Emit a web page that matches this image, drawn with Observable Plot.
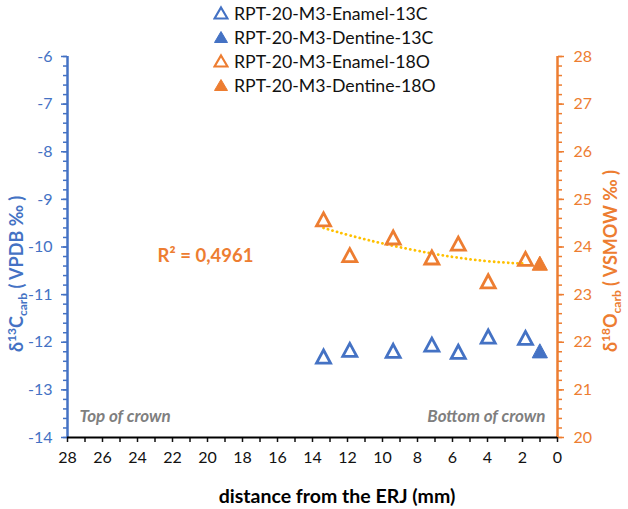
<!DOCTYPE html>
<html>
<head>
<meta charset="utf-8">
<script src="https://cdn.jsdelivr.net/npm/d3@7"></script>
<script src="https://cdn.jsdelivr.net/npm/@observablehq/plot@0.6"></script>
<style>
  body { margin: 0; background: #fff; font-family: Lato, "Open Sans", sans-serif; }
  #wrap { position: relative; width: 628px; height: 509px; }
  #legend { position: absolute; left: 213px; top: 1px; font-size: 17.7px; color: #111; }
  .row { display: flex; align-items: center; height: 24px; white-space: nowrap; }
  .row svg { margin-right: 5px; }
</style>
</head>
<body>
<div id="wrap"><div id="legend"></div></div>
<script>
// Sampling positions along the tooth (mm from the enamel-root junction)
const distEnamel = [13.37, 11.87, 9.39, 7.18, 5.67, 3.96, 1.83];
const c13Enamel = [-12.30, -12.16, -12.18, -12.05, -12.20, -11.88, -11.91];
const o18Enamel = [24.58, 23.83, 24.20, 23.78, 24.07, 23.28, 23.75];
const distDentine = [1.01];
const c13Dentine = [-12.18];
const o18Dentine = [23.66];

// Trend line through the enamel δ18O values
const trendDist = [13.37, 11.83, 9.70, 7.26, 5.16, 3.26, 1.83];
const trendO18 = [24.40, 24.24, 24.05, 23.87, 23.75, 23.68, 23.65];
const rSquared = 0.4961;

const seriesNames = [
  "RPT-20-M3-Enamel-13C",
  "RPT-20-M3-Dentine-13C",
  "RPT-20-M3-Enamel-18O",
  "RPT-20-M3-Dentine-18O"
];
const cornerLabels = ["Top of crown", "Bottom of crown"];

const blue = "#4472C4";
const orange = "#ED7D31";
const gold = "#FFC000";

// δ18O (20–28) shares the frame with δ13C (−14 to −6)
const shift = 34;
const toC = (o) => o - shift;

const xTicks = d3.range(0, 29, 1);
const cMajor = d3.range(-14, -5, 1);
const cMinor = d3.range(0, 41).map(i => -14 + i * 0.2);

const rows = (xs, ys) => xs.map((x, i) => ({x, y: ys[i]}));
const enamelC = rows(distEnamel, c13Enamel);
const dentineC = rows(distDentine, c13Dentine);
const enamelO = rows(distEnamel, o18Enamel.map(toC));
const dentineO = rows(distDentine, o18Dentine.map(toC));
const trend = rows(trendDist, trendO18.map(toC));

// upright triangle centred on its bounding box
const triangle = {
  draw(context, size) {
    const r = Math.sqrt(size / Math.PI);
    const h = r * 0.93;
    context.moveTo(0, -h);
    context.lineTo(r, h);
    context.lineTo(-r, h);
    context.closePath();
  }
};
const hollow = {symbol: triangle, r: 7, fill: "none", strokeWidth: 2.8, strokeLinejoin: "miter"};
const solid = {symbol: triangle, r: 7.6, strokeWidth: 1};

const svg = Plot.plot({
  width: 628,
  height: 509,
  marginLeft: 67,
  marginRight: 71,
  marginTop: 56,
  marginBottom: 72,
  style: {fontFamily: "Lato, 'Open Sans', sans-serif", fontSize: "16px", background: "#fff"},
  x: {domain: [28, 0]},
  y: {domain: [-14, -6]},
  marks: [
    // left axis (δ13C)
    Plot.axisY(cMinor, {anchor: "left", tickSize: 4, strokeWidth: 1.5, stroke: blue, fill: "none", label: null}),
    Plot.axisY(cMajor, {anchor: "left", tickSize: 6, tickPadding: 9, strokeWidth: 1.5, color: blue, tickFormat: d => String(d), label: null}),
    // right axis (δ18O)
    Plot.axisY(cMinor, {anchor: "right", tickSize: 4, strokeWidth: 1.5, stroke: orange, fill: "none", label: null}),
    Plot.axisY(cMajor, {anchor: "right", tickSize: 6, tickPadding: 10, strokeWidth: 1.5, color: orange, tickFormat: d => String(d + shift), label: null}),
    // bottom axis
    Plot.axisX(xTicks, {tickSize: 5, tickPadding: 9, strokeWidth: 1.5, color: "#111", tickFormat: d => d % 2 === 0 ? String(d) : "", label: null}),
    Plot.ruleX([28], {stroke: blue, strokeWidth: 2.5}),
    Plot.ruleX([0], {stroke: orange, strokeWidth: 2.5}),
    Plot.ruleY([-14], {stroke: "#000", strokeWidth: 2}),
    Plot.text([cornerLabels[0]], {frameAnchor: "bottom-left", textAnchor: "start", dx: 12, dy: -16, fill: "#7f7f7f", fontWeight: "bold", fontStyle: "italic", fontSize: 17}),
    Plot.text([cornerLabels[1]], {frameAnchor: "bottom-right", textAnchor: "end", dx: -12, dy: -16, fill: "#7f7f7f", fontWeight: "bold", fontStyle: "italic", fontSize: 17}),
    // trend line
    Plot.line(trend, {x: "x", y: "y", curve: "natural", stroke: gold, strokeWidth: 2.8, strokeDasharray: "0.1 4.6", strokeLinecap: "round"}),
    Plot.text([rSquared], {frameAnchor: "left", textAnchor: "middle", dx: 138, dy: 9.5, text: d => "R² = " + d.toFixed(4).replace(".", ","), fill: orange, fontWeight: "bold", fontSize: 18.5}),
    // data
    Plot.dot(enamelC, {x: "x", y: "y", ...hollow, stroke: blue}),
    Plot.dot(dentineC, {x: "x", y: "y", ...solid, fill: blue, stroke: blue}),
    Plot.dot(enamelO, {x: "x", y: "y", ...hollow, stroke: orange}),
    Plot.dot(dentineO, {x: "x", y: "y", ...solid, fill: orange, stroke: orange})
  ]
});

// axis titles with super/subscripts, written upward from the given start point
const s = d3.select(svg);
function richTitle(x, y, color, parts) {
  const t = s.append("text")
    .attr("transform", `translate(${x},${y}) rotate(-90)`)
    .attr("text-anchor", "start")
    .attr("fill", color)
    .attr("font-weight", "bold")
    .attr("font-size", 18);
  parts.forEach(([txt, kind]) => {
    const ts = t.append("tspan").text(txt);
    if (kind === "sup") ts.attr("font-size", 12).attr("dy", -7);
    if (kind === "after-sup") ts.attr("dy", 7);
    if (kind === "sub") ts.attr("font-size", 12).attr("dy", 4);
    if (kind === "after-sub") ts.attr("dy", -4);
  });
}
// δ13Ccarb ( VPDB ‰ ) and δ18Ocarb ( VSMOW ‰ )
function titleParts(iso, el, ref) {
  return [["δ"], [iso, "sup"], [el, "after-sup"], ["carb", "sub"], [` ( ${ref} ‰ )`, "after-sub"]];
}
richTitle(23, 352, blue, titleParts("13", "C", "VPDB"));
richTitle(617, 352, orange, titleParts("18", "O", "VSMOW"));

s.append("text")
  .attr("x", 337).attr("y", 503)
  .attr("text-anchor", "middle")
  .attr("font-weight", "bold")
  .attr("font-size", 19.5)
  .attr("fill", "#000")
  .text("distance from the ERJ (mm)");

document.getElementById("wrap").prepend(svg);

// legend
const legendStyles = [
  {color: blue, filled: false},
  {color: blue, filled: true},
  {color: orange, filled: false},
  {color: orange, filled: true}
];
const legend = d3.select("#legend");
seriesNames.forEach((name, i) => {
  const st = legendStyles[i];
  const row = legend.append("div").attr("class", "row");
  const ic = row.append("svg").attr("width", 16).attr("height", 16);
  ic.append("polygon")
    .attr("points", "8,2.5 14.5,13.5 1.5,13.5")
    .attr("fill", st.filled ? st.color : "none")
    .attr("stroke", st.color)
    .attr("stroke-width", st.filled ? 1 : 2.2)
    .attr("stroke-linejoin", "miter");
  row.append("span").text(name);
});
</script>
</body>
</html>
